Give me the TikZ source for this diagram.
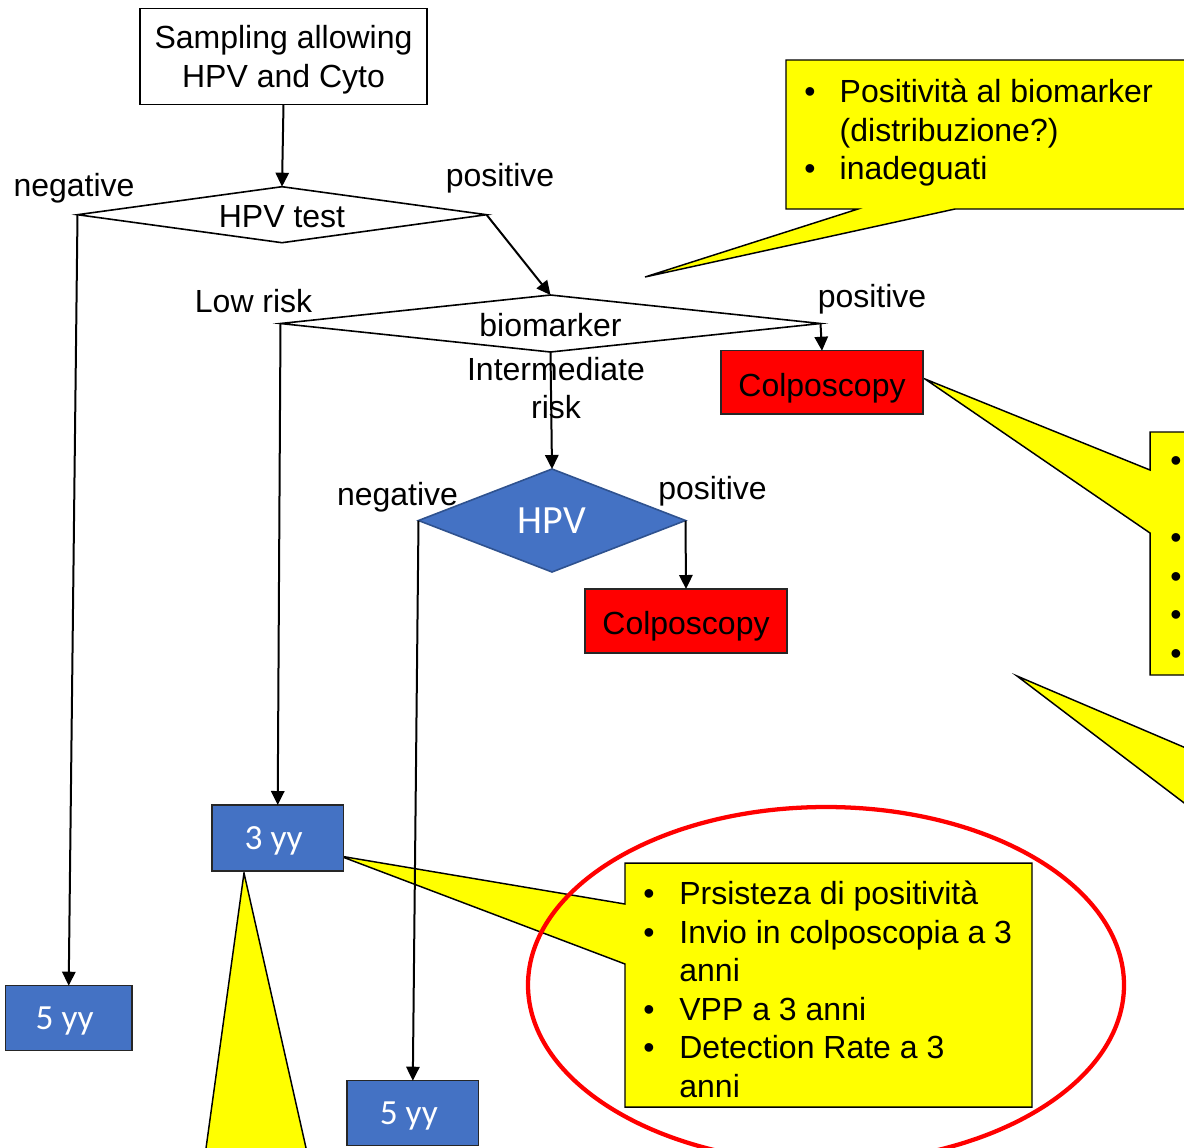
\documentclass[tikz,border=0pt]{standalone}
\usepackage{fontspec}
\setmainfont{Liberation Sans}
\newfontfamily\calfont{Carlito}
\usetikzlibrary{arrows.meta,shapes.geometric}
\definecolor{boxblue}{HTML}{4472C4}
\definecolor{diablue}{HTML}{2F528F}
\definecolor{noteyellow}{HTML}{FFFF00}
\definecolor{alertred}{HTML}{FF0000}
\newcommand{\bul}[1]{\makebox[#1][l]{•}}
\begin{document}
\begin{tikzpicture}[x=0.75pt,y=-0.75pt,
  every node/.style={inner sep=0pt, outer sep=0pt, font=\fontsize{24}{28.9}\selectfont},
  decision/.style={shape=diamond, draw, line width=1.2pt, fill=white, text height=19.5pt, text depth=0pt},
  startbox/.style={draw, rectangle, line width=1.1pt, align=center, text depth=-3pt},
  yybox/.style={draw=black!85, fill=boxblue, line width=1.1pt, text=white,
    font=\calfont\fontsize{26.5}{30}\selectfont, text depth=0pt},
  colpo/.style={draw=black!85, fill=alertred, line width=1.1pt, text height=20.5pt, text depth=0pt},
  flow/.style={line width=1.5pt, -{Triangle[length=10.5pt,width=10pt]}},
  callout/.style={fill=noteyellow, draw=black, line width=1.1pt, line join=miter},
  lbl/.style={anchor=base}]
\path[use as bounding box] (0,0) rectangle (1184,1147);
\begin{scope}
\clip (0,0) rectangle (1184,1147);

% speech-bubble callouts
\draw[callout] (786,60) -- (1200,60) -- (1200,209) -- (955,209) -- (645,277) -- (858,209) -- (786,209) -- cycle;
\draw[callout] (1150,432) -- (1200,432) -- (1200,675) -- (1150,675) -- (1150,533) -- (925,379) -- (1150,470) -- cycle;
\draw[callout] (1017,676) -- (1200,754) -- (1200,815) -- cycle;
\draw[callout] (625,863) -- (1032,863) -- (1032,1107) -- (625,1107) -- (625,964) -- (340,856) -- (625,904) -- cycle;
\draw[callout] (244,873) -- (311,1170) -- (203,1170) -- cycle;

% callout texts
\node[anchor=base west] (noteA) at (804.4,102.5)
  {\begin{tabular}[t]{@{}l@{}l@{}}\bul{26.5pt}&Positività al biomarker\\ &(distribuzione?)\\ \bul{26.5pt}&inadeguati\end{tabular}};
\node[anchor=base west] (noteB) at (1170.4,471.6)
  {\begin{tabular}[t]{@{}l@{}}•\\ \\ •\\ •\\ •\\ •\end{tabular}};
\node[anchor=base west] (noteC) at (643.4,904.7)
  {\begin{tabular}[t]{@{}l@{}l@{}}\bul{27pt}&Prsisteza di positività\\ \bul{27pt}&Invio in colposcopia a 3\\ &anni\\ \bul{27pt}&VPP a 3 anni\\ \bul{27pt}&Detection Rate a 3\\ &anni\end{tabular}};

% flow chart nodes
\node[startbox, minimum width=215.25pt, minimum height=72pt] (sampling) at (283.5,56.5)
  {Sampling allowing\\HPV and Cyto};
\node[decision, minimum width=306.75pt, minimum height=42pt, shape aspect=7.3] (hpvtest) at (282,214.7) {HPV test};
\node[decision, minimum width=405pt, minimum height=42.75pt, shape aspect=9.5] (biomarker) at (550.5,323.5) {biomarker};
\node[decision, draw=diablue, fill=boxblue, text=white, minimum width=200.25pt, minimum height=77.25pt,
  shape aspect=2.6, font=\calfont\fontsize{30}{34}\selectfont, text height=19.3pt] (hpv) at (552,520.5) {HPV};
\node[colpo, minimum width=151.5pt, minimum height=47.5pt] (colpoA) at (822,382.4) {Colposcopy};
\node[colpo, minimum width=151.5pt, minimum height=48pt] (colpoB) at (686,621) {Colposcopy};
\node[yybox, minimum width=98.7pt, minimum height=49.5pt] (threeyy) at (277.7,838) {3 yy\hspace*{6pt}};
\node[yybox, minimum width=95pt, minimum height=48.75pt] (fiveA) at (68.7,1018.2) {5 yy\hspace*{6pt}};
\node[yybox, minimum width=98.7pt, minimum height=48.75pt] (fiveB) at (412.8,1113.2) {5 yy\hspace*{6pt}};

% branch labels
\node[lbl] (negA) at (74,196) {negative};
\node[lbl] (posA) at (500,186) {positive};
\node[lbl] (lowrisk) at (253.6,312.7) {Low risk};
\node[lbl] (posB) at (872,307) {positive};
\node[lbl] (negB) at (397.5,505) {negative};
\node[lbl] (posC) at (712.5,499) {positive};

% connectors
\draw[flow] (sampling.south) -- (hpvtest.north);
\draw[flow] (hpvtest.west) -- (fiveA.north);
\draw[flow] (hpvtest.east) -- (biomarker.north);
\draw[flow] (biomarker.west) -- (threeyy.north);
\draw[flow] (biomarker.east) -- (colpoA.north);
\draw[flow] (biomarker.south) -- (hpv.north);
\draw[flow] (hpv.west) -- (fiveB.north);
\draw[flow] (hpv.east) -- (colpoB.north);

\node[lbl] (midrisk) at (556,380) {\begin{tabular}[t]{@{}c@{}}Intermediate\\risk\end{tabular}};

% highlight ring
\draw[alertred, line width=3.2pt] (826,985) ellipse [x radius=223.5pt, y radius=133.5pt];
\end{scope}
\end{tikzpicture}
\end{document}
